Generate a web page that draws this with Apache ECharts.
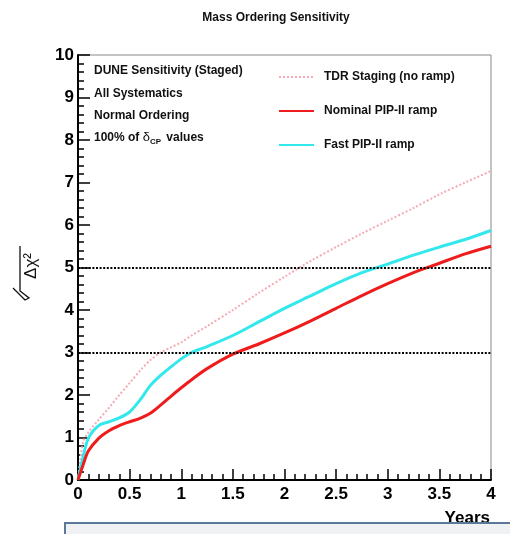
<!DOCTYPE html>
<html>
<head>
<meta charset="utf-8">
<script src="https://cdn.jsdelivr.net/npm/echarts@6/dist/echarts.min.js"></script>
<style>
  html, body { margin: 0; padding: 0; background: #fff; }
  #chart { width: 510px; height: 534px; }
</style>
</head>
<body>
<div id="chart"></div>
<script>
// exposure time in years (shared x grid for all curves)
const years = [0, 0.05, 0.1, 0.2, 0.3, 0.4, 0.5, 0.6, 0.7, 0.8, 0.9, 1.0, 1.1, 1.25, 1.5, 1.75, 2.0, 2.25, 2.5, 2.75, 3.0, 3.25, 3.5, 3.75, 4.0];

// sqrt(delta chi^2)
const tdrStaging = [0, 0.9, 1.12, 1.42, 1.7, 2.0, 2.28, 2.57, 2.82, 3.0, 3.12, 3.24, 3.4, 3.62, 4.0, 4.4, 4.78, 5.15, 5.48, 5.8, 6.1, 6.4, 6.72, 7.0, 7.27];
const nominalRamp = [0, 0.36, 0.68, 0.98, 1.16, 1.28, 1.37, 1.45, 1.57, 1.76, 1.97, 2.17, 2.36, 2.62, 2.96, 3.2, 3.46, 3.74, 4.04, 4.34, 4.62, 4.88, 5.1, 5.32, 5.5];
const fastRamp = [0, 0.55, 0.98, 1.28, 1.37, 1.46, 1.6, 1.88, 2.22, 2.46, 2.66, 2.85, 3.0, 3.14, 3.4, 3.72, 4.04, 4.33, 4.62, 4.88, 5.08, 5.29, 5.48, 5.66, 5.87];

// reference significance levels
const sigmaLines = [5, 3];

const infoLines = ['DUNE Sensitivity (Staged)', 'All Systematics', 'Normal Ordering'];

const FONT = 'Liberation Sans';

const chart = echarts.init(document.getElementById('chart'));

const pairs = vals => years.map((x, i) => [x, vals[i]]);

const option = {
  animation: false,
  title: {
    text: 'Mass Ordering Sensitivity',
    left: 271,
    top: 7,
    textAlign: 'center',
    textStyle: { fontFamily: FONT, fontSize: 12, fontWeight: 'bold', color: '#111' }
  },
  grid: {
    left: 78, right: 19, top: 55, bottom: 54,
    show: true, borderColor: '#888', borderWidth: 1
  },
  legend: {
    orient: 'vertical',
    left: 278,
    top: 71,
    padding: 0,
    itemWidth: 35,
    itemHeight: 14,
    itemGap: 22,
    // hide the symbol, keep the line sample
    itemStyle: { opacity: 0 },
    data: ['TDR Staging (no ramp)', 'Nominal PIP-II ramp', 'Fast PIP-II ramp'],
    textStyle: { fontFamily: FONT, fontSize: 12, fontWeight: 'bold', color: '#111', padding: [0, 0, 0, 5] }
  },
  xAxis: {
    type: 'value',
    min: 0, max: 4, interval: 0.5,
    axisLine: { show: true, lineStyle: { color: '#000', width: 2 } },
    axisTick: { show: true, inside: true, length: 11, lineStyle: { color: '#000', width: 1.5 } },
    minorTick: { show: true, splitNumber: 5, length: 6, lineStyle: { color: '#000', width: 1.5 } },
    splitLine: { show: false },
    axisLabel: { margin: 6, fontFamily: FONT, fontSize: 17, fontWeight: 'bold', color: '#000' }
  },
  yAxis: {
    type: 'value',
    min: 0, max: 10, interval: 1,
    axisLine: { show: true, lineStyle: { color: '#000', width: 2 } },
    axisTick: { show: true, inside: true, length: 12, lineStyle: { color: '#000', width: 1.5 } },
    minorTick: { show: true, splitNumber: 5, length: 6, lineStyle: { color: '#000', width: 1.5 } },
    splitLine: { show: false },
    axisLabel: { margin: 4, fontFamily: FONT, fontSize: 17, fontWeight: 'bold', color: '#000' }
  },
  series: [
    {
      name: 'TDR Staging (no ramp)',
      type: 'line',
      data: pairs(tdrStaging),
      symbol: 'none',
      smooth: 0.3,
      itemStyle: { color: '#f6aab3' },
      lineStyle: { color: '#f6aab3', width: 2, type: [2, 2] },
      markLine: {
        silent: true,
        symbol: 'none',
        label: { show: false },
        lineStyle: { color: '#000', width: 2, type: [2, 1.6] },
        data: sigmaLines.map(v => ({ yAxis: v }))
      }
    },
    {
      name: 'Fast PIP-II ramp',
      type: 'line',
      data: pairs(fastRamp),
      symbol: 'none',
      smooth: 0.3,
      itemStyle: { color: '#33e8ec' },
      lineStyle: { color: '#33e8ec', width: 3 }
    },
    {
      name: 'Nominal PIP-II ramp',
      type: 'line',
      data: pairs(nominalRamp),
      symbol: 'none',
      smooth: 0.3,
      itemStyle: { color: '#ee1c1c' },
      lineStyle: { color: '#ee1c1c', width: 3 }
    }
  ],
  graphic: [
    // info block inside the frame
    ...infoLines.map((t, i) => ({
      type: 'text',
      left: 94,
      top: 65 + i * 22.5,
      style: { text: t, font: 'bold 12px ' + FONT, fill: '#111' }
    })),
    {
      type: 'text',
      left: 94,
      top: 131,
      style: {
        text: '100% of {d|δ}{s|CP} values',
        font: 'bold 12px ' + FONT,
        fill: '#111',
        rich: {
          d: { font: '13px ' + FONT, fill: '#111' },
          s: { font: 'bold 8px ' + FONT, fill: '#111', padding: [9, 2, 0, 0] }
        }
      }
    },
    // y axis title: sqrt(delta chi^2), rotated
    {
      type: 'text',
      x: 31,
      y: 266,
      rotation: Math.PI / 2,
      style: { text: 'Δχ²', font: '17px ' + FONT, fill: '#111', align: 'center', verticalAlign: 'middle' }
    },
    {
      type: 'polyline',
      shape: { points: [[20, 246], [20, 291], [29, 298], [25, 300], [13, 288]] },
      style: { stroke: '#111', lineWidth: 1.3, fill: null }
    },
    // x axis title
    {
      type: 'text',
      right: 20,
      top: 510,
      style: { text: 'Years', font: 'bold 17px ' + FONT, fill: '#000' }
    },
    // slide text box clipped at the bottom
    {
      type: 'rect',
      z: 100,
      shape: { x: 65, y: 523, width: 460, height: 30 },
      style: { fill: '#f0f1f3', stroke: '#5b7896', lineWidth: 2 }
    }
  ]
};

chart.setOption(option);
</script>
</body>
</html>
